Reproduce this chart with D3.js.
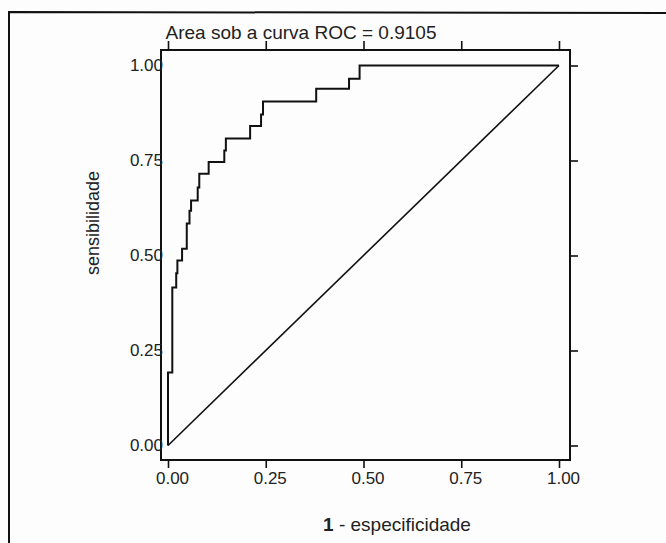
<!DOCTYPE html>
<html>
<head>
<meta charset="utf-8">
<script src="https://cdn.jsdelivr.net/npm/d3@7"></script>
<style>
  body { margin: 0; background: #fff; }
  svg { display: block; }
</style>
</head>
<body>
<div id="chart"></div>
<script>
// data
const title = 'Area sob a curva ROC = 0.9105'
const xLabel = '1 - especificidade'
const yLabel = 'sensibilidade'
const tickValues = [0, 0.25, 0.5, 0.75, 1]
// ROC operating points (top of each vertical step)
const fpr = [0, 0, 0.011, 0.021, 0.024, 0.036, 0.048, 0.055, 0.059, 0.076, 0.080, 0.104, 0.144, 0.148, 0.210, 0.238, 0.243, 0.379, 0.463, 0.490, 1.0]
const tpr = [0, 0.192, 0.416, 0.453, 0.487, 0.518, 0.584, 0.618, 0.645, 0.679, 0.715, 0.746, 0.776, 0.808, 0.841, 0.871, 0.905, 0.939, 0.965, 1.0, 1.0]
const refLine = [[0, 0], [1, 1]]

// canvas
const width = 666
const height = 543
const frame = { left: 161, right: 570, top: 50, bottom: 460 }
const font = '"Liberation Sans", Arial, sans-serif'

const svg = d3.select('#chart')
    .append('svg')
    .attr('width', width)
    .attr('height', height)
    .style('font-family', font)

svg.append('rect')
    .attr('width', width)
    .attr('height', height)
    .attr('fill', '#fdfdfd')

// outer border (left and top only are visible)
svg.append('path')
    .attr('d', `M9,${height} L9,12 L${width},13`)
    .attr('fill', 'none')
    .attr('stroke', '#111')
    .attr('stroke-width', 2)

const xScale = d3.scaleLinear()
    .domain([0, 1])
    .range([168, 559])
const yScale = d3.scaleLinear()
    .domain([0, 1])
    .range([445.5, 65.5])
const fmt = d3.format('.2f')

// plot frame
svg.append('rect')
    .attr('x', frame.left)
    .attr('y', frame.top)
    .attr('width', frame.right - frame.left)
    .attr('height', frame.bottom - frame.top)
    .attr('fill', 'none')
    .attr('stroke', '#111')
    .attr('stroke-width', 2)

// axes
const xAxisG = svg.append('g')
    .attr('transform', `translate(0, ${frame.bottom})`)
    .call(d3.axisBottom(xScale).tickValues(tickValues).tickSize(8).tickPadding(4).tickFormat(fmt))
const xTopG = svg.append('g')
    .attr('transform', `translate(0, ${frame.top})`)
    .call(d3.axisTop(xScale).tickValues(tickValues).tickSize(9).tickFormat(''))
const yRightG = svg.append('g')
    .attr('transform', `translate(${frame.right}, 0)`)
    .call(d3.axisRight(yScale).tickValues(tickValues).tickSize(8).tickFormat(''))
const yAxisG = svg.append('g')
    .attr('transform', `translate(${frame.left + 2}, 0)`)
    .call(d3.axisLeft(yScale).tickValues(tickValues).tickSize(0).tickPadding(0).tickFormat(fmt))

for (let g of [xAxisG, xTopG, yRightG, yAxisG]) {
    g.select('.domain').remove()
    g.selectAll('line').attr('stroke', '#111').attr('stroke-width', 1.6)
    g.selectAll('text')
        .attr('fill', '#222')
        .style('font-family', font)
        .style('font-size', '17px')
}
xAxisG.selectAll('text').attr('dx', 4)

// reference diagonal
svg.append('path')
    .datum(refLine)
    .attr('fill', 'none')
    .attr('stroke', '#111')
    .attr('stroke-width', 1.6)
    .attr('d', d3.line()
        .x(d => xScale(d[0]))
        .y(d => yScale(d[1])))

// ROC curve
const rocPoints = fpr.map((f, i) => ({ x: f, y: tpr[i] }))
svg.append('path')
    .datum(rocPoints)
    .attr('fill', 'none')
    .attr('stroke', '#111')
    .attr('stroke-width', 2)
    .attr('d', d3.line()
        .curve(d3.curveStepAfter)
        .x(d => xScale(d.x))
        .y(d => yScale(d.y)))

// texts
svg.append('text')
    .attr('x', 301)
    .attr('y', 39)
    .attr('text-anchor', 'middle')
    .attr('fill', '#222')
    .style('font-size', '19px')
    .text(title)

const xl = svg.append('text')
    .attr('x', 397)
    .attr('y', 531)
    .attr('text-anchor', 'middle')
    .attr('fill', '#222')
    .style('font-size', '19px')
xl.append('tspan').attr('font-weight', 'bold').text(xLabel.slice(0, 1))
xl.append('tspan').text(xLabel.slice(1))

svg.append('text')
    .attr('transform', 'translate(99, 223) rotate(-90)')
    .attr('text-anchor', 'middle')
    .attr('fill', '#222')
    .style('font-size', '18px')
    .text(yLabel)
</script>
</body>
</html>
